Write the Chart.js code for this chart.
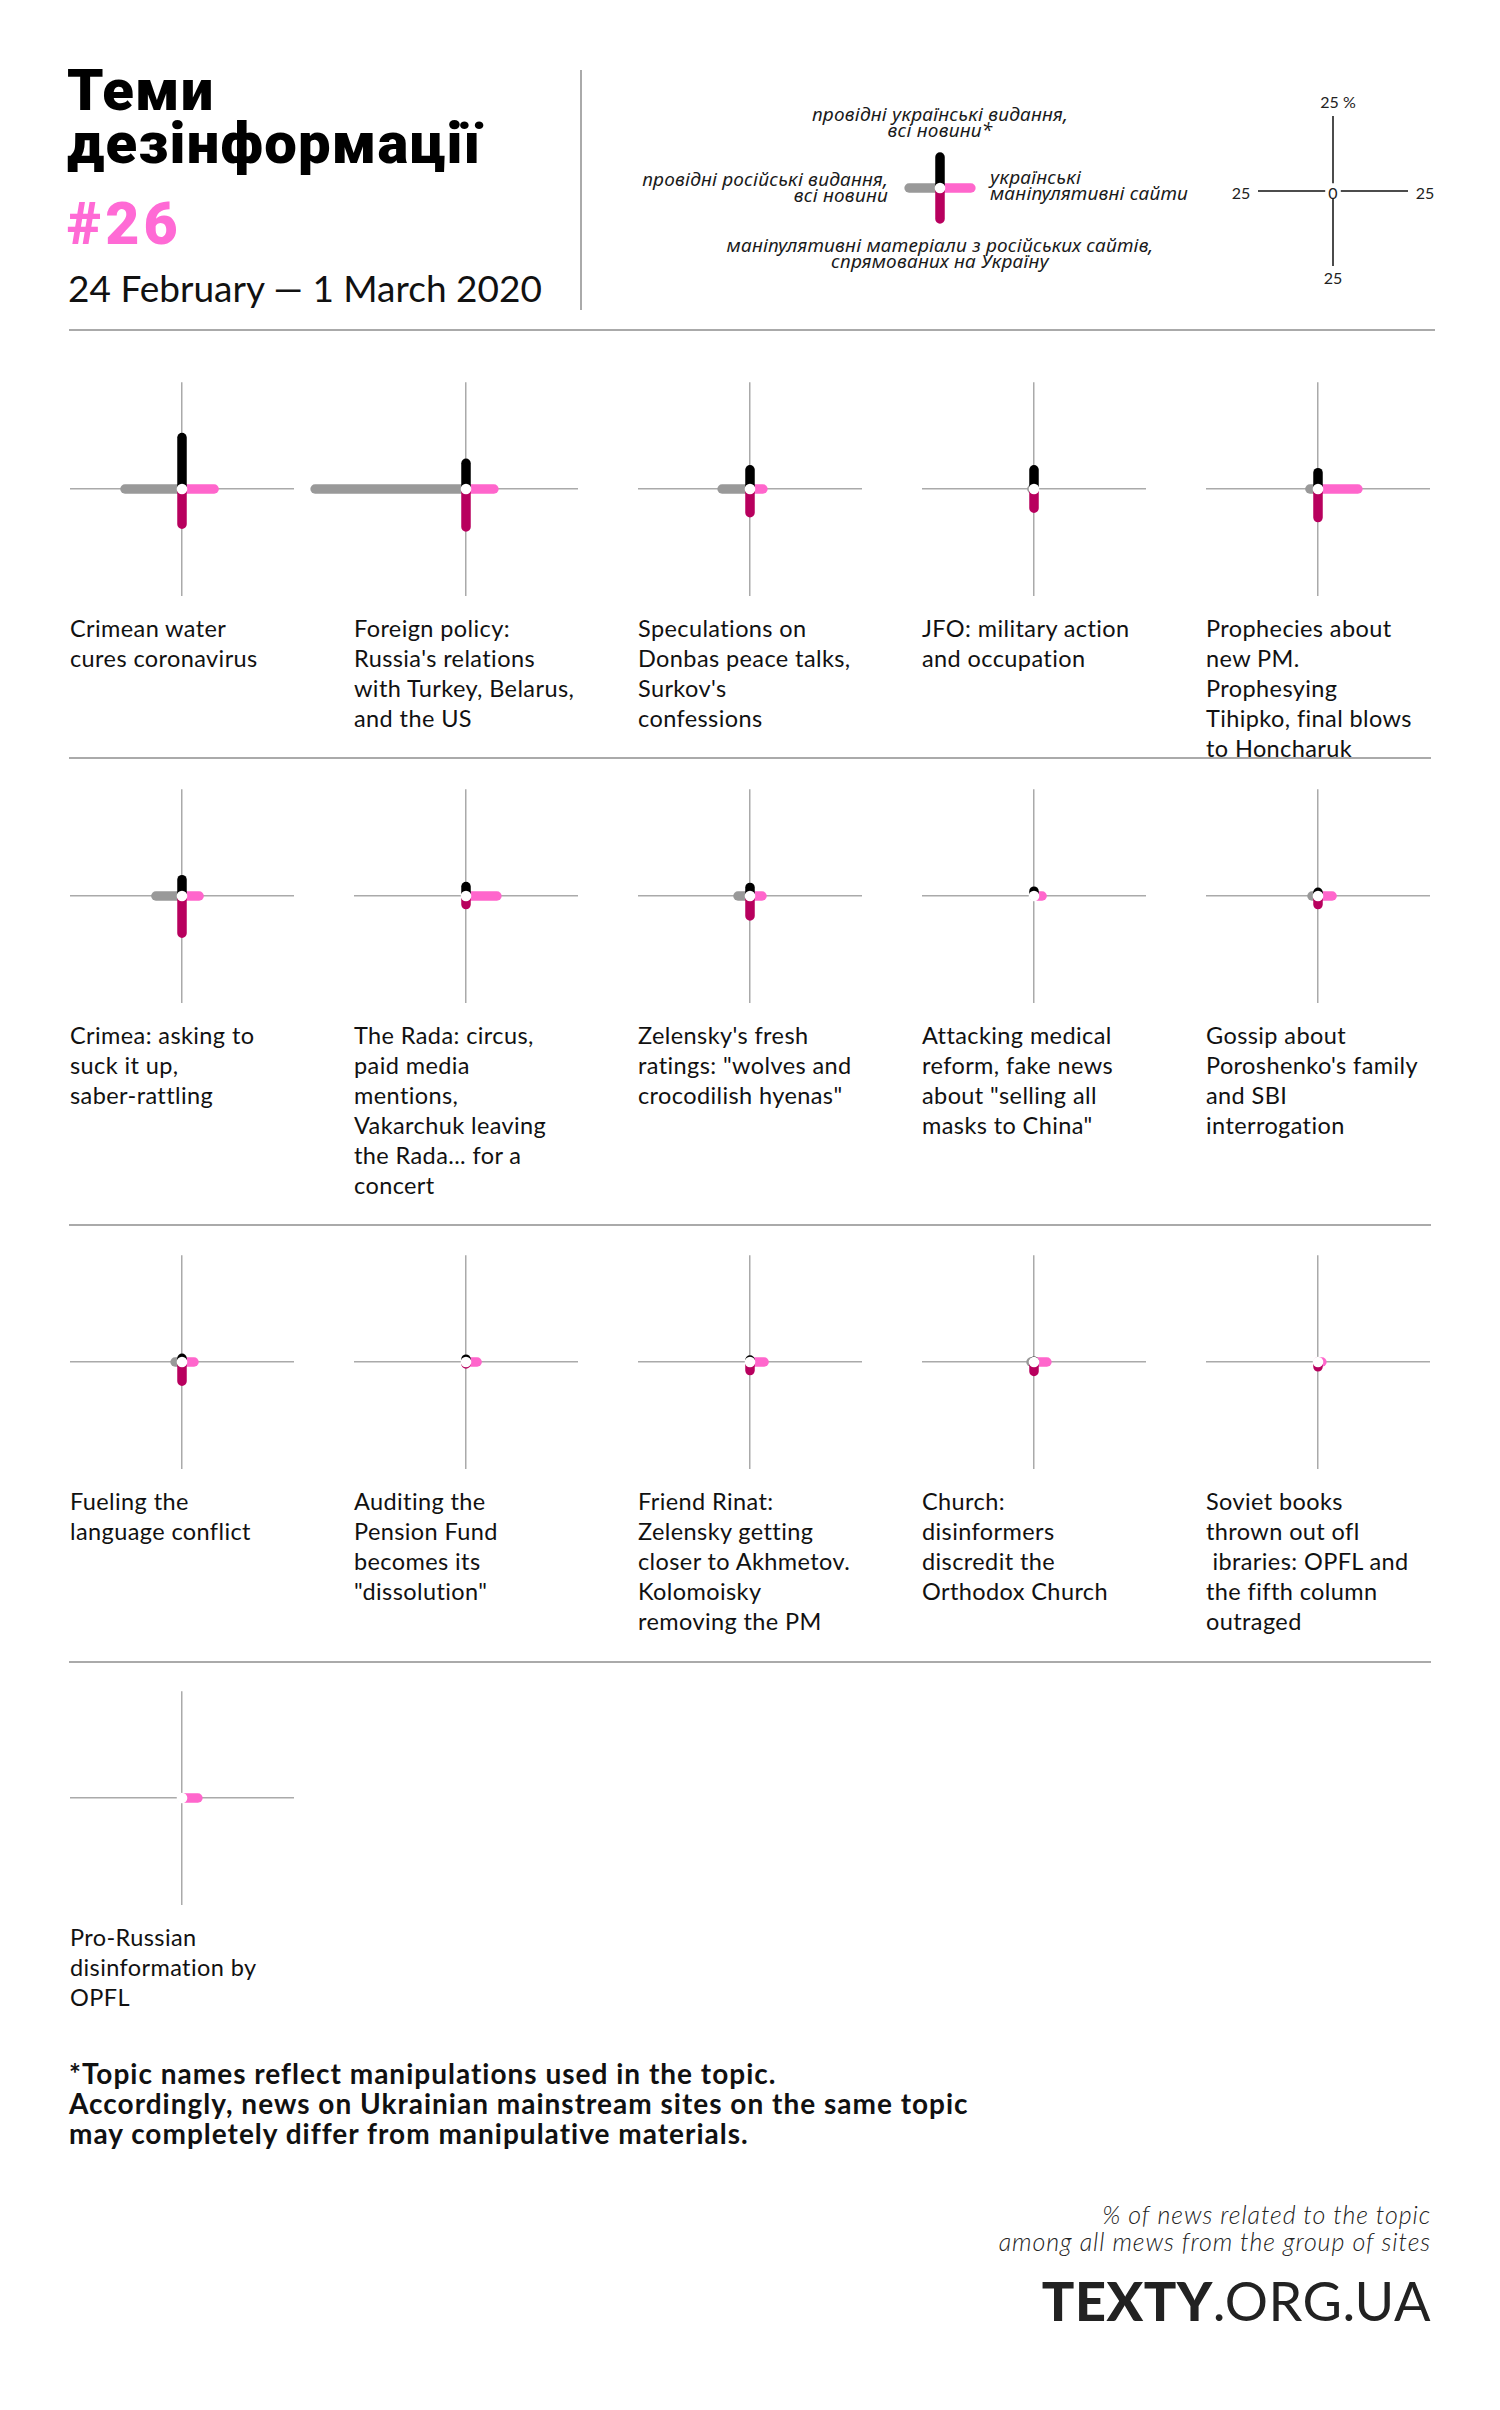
<!DOCTYPE html>
<html>
<head>
<meta charset="utf-8">
<script src="https://cdn.jsdelivr.net/npm/chart.js@4.4.1/dist/chart.umd.min.js"></script>
<style>
  body { margin: 0; background: #fff; }
  #page { position: relative; width: 1500px; height: 2410px; overflow: hidden;
          font-family: Lato, "Noto Sans", sans-serif; color: #111; }
  .abs { position: absolute; }
  .title { font-family: Roboto, "Noto Sans", sans-serif; font-weight: 900; font-size: 58px;
           line-height: 53px; letter-spacing: 1.2px; color: #000; }
  .num { font-family: Roboto, sans-serif; font-weight: 900; font-size: 59px; letter-spacing: 4px; color: #ff6ad5; }
  .date { font-size: 37px; font-weight: 400; color: #111; }
  .rule { position: absolute; background: #aaa; }
  .lgd { font-family: "Noto Sans", sans-serif; font-style: italic; font-weight: 400; font-size: 19px; line-height: 16px;
         letter-spacing: 0.2px; color: #1a1a1a; white-space: nowrap; }
  .scl { font-size: 16px; color: #222; }
  .topic { font-size: 23.5px; line-height: 30px; letter-spacing: 0.4px; white-space: pre; color: #111; }
  .note { font-size: 28px; font-weight: 700; line-height: 30px; letter-spacing: 1px; color: #111; }
  .src { font-style: italic; font-weight: 300; font-size: 25px; line-height: 27px; letter-spacing: 0.9px; color: #222; text-align: right; }
  .logo { font-size: 54px; color: #222; letter-spacing: 0.5px; }
  canvas { position: absolute; }
</style>
</head>
<body>
<div id="page">
  <div class="abs title" style="left:67px;top:64px">Теми<br>дезінформації</div>
  <div class="abs num" style="left:67px;top:189px">#26</div>
  <div class="abs date" style="left:68px;top:265px">24 February — 1 March 2020</div>
  <div class="rule" style="left:580px;top:70px;width:1.5px;height:240px"></div>
  <div class="rule" style="left:69px;top:329px;width:1366px;height:2px"></div>

  <div class="abs lgd" style="left:690px;top:106px;width:500px;text-align:center">провідні українські видання,<br>всі новини*</div>
  <div class="abs lgd" style="left:538px;top:171px;width:350px;text-align:right">провідні російські видання,<br>всі новини</div>
  <div class="abs lgd" style="left:990px;top:169px">українські<br>маніпулятивні сайти</div>
  <div class="abs lgd" style="left:690px;top:237px;width:500px;text-align:center">маніпулятивні матеріали з російських сайтів,<br>спрямованих на Україну</div>

  <div class="abs scl" style="left:1313px;top:92px;width:50px;text-align:center">25 %</div>
  <div class="abs scl" style="left:1308px;top:183px;width:50px;text-align:center">0</div>
  <div class="abs scl" style="left:1308px;top:268px;width:50px;text-align:center">25</div>
  <div class="abs scl" style="left:1216px;top:183px;width:50px;text-align:center">25</div>
  <div class="abs scl" style="left:1400px;top:183px;width:50px;text-align:center">25</div>

  <div class="rule" style="left:69px;top:757px;width:1362px;height:2px"></div>
  <div class="rule" style="left:69px;top:1224px;width:1362px;height:2px"></div>
  <div class="rule" style="left:69px;top:1661px;width:1362px;height:2px"></div>

  <div class="abs note" style="left:69px;top:2058px">*Topic names reflect manipulations used in the topic.<br>Accordingly, news on Ukrainian mainstream sites on the same topic<br>may completely differ from manipulative materials.</div>
  <div class="abs src" style="left:731px;top:2201px;width:700px">% of news related to the topic<br>among all mews from the group of sites</div>
  <div class="abs logo" style="left:931px;top:2268px;width:500px;text-align:right"><b style="font-weight:900">TEXTY</b>.ORG.UA</div>
</div>

<script>
// ---- data: % of news on the topic within each group of sites ----
const topics = [
  "Crimean water\ncures coronavirus",
  "Foreign policy:\nRussia's relations\nwith Turkey, Belarus,\nand the US",
  "Speculations on\nDonbas peace talks,\nSurkov's\nconfessions",
  "JFO: military action\nand occupation",
  "Prophecies about\nnew PM.\nProphesying\nTihipko, final blows\nto Honcharuk",
  "Crimea: asking to\nsuck it up,\nsaber-rattling",
  "The Rada: circus,\npaid media\nmentions,\nVakarchuk leaving\nthe Rada... for a\nconcert",
  "Zelensky's fresh\nratings: \"wolves and\ncrocodilish hyenas\"",
  "Attacking medical\nreform, fake news\nabout \"selling all\nmasks to China\"",
  "Gossip about\nPoroshenko's family\nand SBI\ninterrogation",
  "Fueling the\nlanguage conflict",
  "Auditing the\nPension Fund\nbecomes its\n\"dissolution\"",
  "Friend Rinat:\nZelensky getting\ncloser to Akhmetov.\nKolomoisky\nremoving the PM",
  "Church:\ndisinformers\ndiscredit the\nOrthodox Church",
  "Soviet books\nthrown out ofl\n ibraries: OPFL and\nthe fifth column\noutraged",
  "Pro-Russian\ndisinformation by\nOPFL"
];
// leading Ukrainian media, all news (up, black)
const ukrMainstream   = [18, 9, 6.7, 6.7, 5.7, 5.7, 3.3, 3, 1.7, 1.3, 1.3, 1, 0.7, 0.3, 0, 0];
// Ukrainian manipulative sites (right, pink)
const ukrManipulative = [10.7, 9.3, 4.3, 0, 13.3, 5.7, 10.3, 4, 2.7, 4.7, 4, 3.7, 4.7, 4.3, 1.3, 5.3];
// leading Russian media, all news (left, gray)
const rusMainstream   = [19, 50.3, 9.3, 0.7, 2.7, 8.7, 0, 4, 0, 2, 2.3, 0, 0, 1, 0, 0];
// Russian manipulative materials aimed at Ukraine (down, crimson)
const rusManipulative = [12.3, 13.3, 8.3, 6.7, 10, 13, 3, 7, 0, 3, 6.7, 0.7, 3, 3.3, 1.7, 0];

// legend cross and scale key
const legendValues = [11.3, 11.3, 11.3, 11.3];
const scaleTick = 25;

const colors = {
  ukrMain: '#000000',
  ukrManip: '#ff66cc',
  rusMain: '#999999',
  rusManip: '#b8005e',
  axis: '#aaaaaa'
};

const page = document.getElementById('page');
const PX_PER_UNIT = 3;          // 25 % = 75 px, as in the key
const AXIS_HALF = 112;          // half length of each cell's cross
const R = AXIS_HALF / PX_PER_UNIT;

function makeCanvas(cx, cy, w, h) {
  const c = document.createElement('canvas');
  c.width = w; c.height = h;
  c.style.left = (cx - w / 2) + 'px';
  c.style.top = (cy - h / 2) + 'px';
  c.style.width = w + 'px'; c.style.height = h + 'px';
  page.appendChild(c);
  return c;
}

function bar(dx, dy, color, width) {
  return {
    type: 'line',
    data: [{x: 0, y: 0}, {x: dx, y: dy}],
    borderColor: color,
    borderWidth: width,
    borderCapStyle: 'round',
    pointRadius: 0,
    showLine: true,
    clip: false
  };
}

function crossDatasets(up, right, left, down, dot) {
  const ds = [];
  if (dot) ds.push({
    type: 'scatter', data: [{x: 0, y: 0}], pointRadius: 5.3,
    pointBackgroundColor: '#fff', pointBorderWidth: 0, clip: false
  });
  if (up > 0) ds.push(bar(0, up, colors.ukrMain, 9.5));
  if (down > 0) ds.push(bar(0, -down, colors.rusManip, 9.5));
  if (right > 0) ds.push(bar(right, 0, colors.ukrManip, 9.5));
  if (left > 0) ds.push(bar(-left, 0, colors.rusMain, 9.5));
  return ds;
}

function axisScale(range, showZeroLine, lineColor) {
  return {
    type: 'linear', min: -range, max: range,
    afterBuildTicks: a => { a.ticks = [{value: 0}]; },
    ticks: {display: false},
    grid: {display: showZeroLine, color: lineColor, lineWidth: 1.5, drawTicks: false},
    border: {display: false}
  };
}

function baseOptions(range, pad, showZeroLine) {
  return {
    responsive: false,
    animation: false,
    events: [],
    layout: {padding: pad},
    plugins: {legend: {display: false}, tooltip: {enabled: false}},
    scales: {x: axisScale(range, showZeroLine, colors.axis), y: axisScale(range, showZeroLine, colors.axis)}
  };
}

// ---- small multiples ----
const colX = [182, 466, 750, 1034, 1318];
const rowY = [489, 896, 1362, 1798];

topics.forEach((t, i) => {
  const cx = colX[i % 5], cy = rowY[Math.floor(i / 5)];
  const cv = makeCanvas(cx, cy, 2 * AXIS_HALF + 96, 2 * AXIS_HALF);
  new Chart(cv.getContext('2d'), {
    type: 'scatter',
    data: {datasets: crossDatasets(ukrMainstream[i], ukrManipulative[i], rusMainstream[i], rusManipulative[i], true)},
    options: baseOptions(R, {left: 48, right: 48, top: 0, bottom: 0}, true)
  });
  const lbl = document.createElement('div');
  lbl.className = 'abs topic';
  lbl.style.left = (cx - AXIS_HALF) + 'px';
  lbl.style.top = (cy + 124) + 'px';
  lbl.textContent = t;
  page.appendChild(lbl);
});

// ---- legend cross ----
const lg = makeCanvas(940, 188, 120, 120);
new Chart(lg.getContext('2d'), {
  type: 'scatter',
  data: {datasets: crossDatasets(legendValues[0], legendValues[1], legendValues[2], legendValues[3], true)},
  options: baseOptions(20, 0, false)
});

// ---- scale key: 0 … 25 in each direction ----
const gap = 2.6;
const keyLine = (dx0, dy0, dx1, dy1) => ({
  type: 'line', data: [{x: dx0, y: dy0}, {x: dx1, y: dy1}],
  borderColor: '#111', borderWidth: 1.5, pointRadius: 0, showLine: true, clip: false
});
const sk = makeCanvas(1333, 191, 160, 160);
new Chart(sk.getContext('2d'), {
  type: 'scatter',
  data: {datasets: [
    keyLine(gap, 0, scaleTick, 0), keyLine(-gap, 0, -scaleTick, 0),
    keyLine(0, gap, 0, scaleTick), keyLine(0, -gap, 0, -scaleTick)
  ]},
  options: baseOptions(160 / 2 / PX_PER_UNIT, 0, false)
});
</script>
</body>
</html>
